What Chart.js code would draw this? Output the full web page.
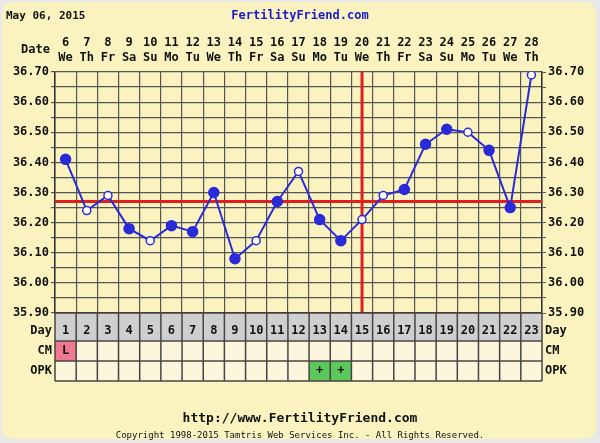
<!DOCTYPE html>
<html><head><meta charset="utf-8">
<script src="https://cdn.jsdelivr.net/npm/chart.js@4"></script>
<style>body{margin:0;background:#e8e8e8}#w{width:600px;height:443px;position:relative}</style>
</head><body><div id="w"><canvas id="c" width="600" height="443"></canvas></div>
<script>
const days=["1","2","3","4","5","6","7","8","9","10","11","12","13","14","15","16","17","18","19","20","21","22","23"];
const dates=["6","7","8","9","10","11","12","13","14","15","16","17","18","19","20","21","22","23","24","25","26","27","28"];
const weekdays=["We","Th","Fr","Sa","Su","Mo","Tu","We","Th","Fr","Sa","Su","Mo","Tu","We","Th","Fr","Sa","Su","Mo","Tu","We","Th"];
const temps=[36.41,36.24,36.29,36.18,36.14,36.19,36.17,36.30,36.08,36.14,36.27,36.37,36.21,36.14,36.21,36.29,36.31,36.46,36.51,36.50,36.44,36.25,36.69];
const openPts=[false,true,true,false,true,false,false,false,false,true,false,true,false,false,true,true,false,false,false,true,false,false,true];
const cm=["L","","","","","","","","","","","","","","","","","","","","","",""];
const opk=["","","","","","","","","","","","","+","+","","","","","","","","",""];
const coverline=36.27;
const ovDay=15;
const blue='#2a2ad8';
const deco={id:'deco',
beforeDraw(ch){const c=ch.ctx;c.save();c.fillStyle='#e8e8e8';c.fillRect(0,0,600,443);
 c.fillStyle='#fbf3bf';c.beginPath();c.roundRect(2,2,594,437,10);c.fill();c.restore();},
beforeDatasetsDraw(ch){const c=ch.ctx,x=ch.scales.x,y=ch.scales.y,a=ch.chartArea;c.save();
 c.strokeStyle='#e02020';c.lineWidth=3;
 const yy=y.getPixelForValue(coverline);c.beginPath();c.moveTo(a.left,yy);c.lineTo(a.right,yy);c.stroke();
 const xx=x.getPixelForValue(ovDay-1);c.beginPath();c.moveTo(xx,a.top);c.lineTo(xx,a.bottom);c.stroke();c.restore();},
afterDraw(ch){const c=ch.ctx,x=ch.scales.x,a=ch.chartArea;c.save();
 const cw=(x.getPixelForValue(1)-x.getPixelForValue(0));
 c.font='bold 11px "DejaVu Sans Mono", monospace';c.fillStyle='#111';c.textBaseline='middle';
 c.textAlign='left';c.fillText('May 06, 2015',6,16);
 c.textAlign='center';c.fillStyle='#1a1ac8';c.font='bold 12px "DejaVu Sans Mono", monospace';c.fillText('FertilityFriend.com',300,16);
 c.font='bold 12px "DejaVu Sans Mono", monospace';c.fillStyle='#111';
 c.textAlign='right';c.fillText('Date',50,50);
 c.textAlign='center';
 for(let i=0;i<days.length;i++){const px=x.getPixelForValue(i);c.fillText(dates[i],px,43);c.fillText(weekdays[i],px,58);}
 const rows=[[a.bottom,a.bottom+28,'#cfcfcf'],[a.bottom+28,a.bottom+48,'#fdf5dc'],[a.bottom+48,a.bottom+68,'#fdf5dc']];
 for(const [t,b,col] of rows){c.fillStyle=col;c.fillRect(a.left,t,a.width,b-t);}
 for(let i=0;i<days.length;i++){const l=x.getPixelForValue(i)-cw/2;
  if(cm[i]){c.fillStyle='#f07890';c.fillRect(l,a.bottom+28,cw,20);}
  if(opk[i]){c.fillStyle='#5cc85c';c.fillRect(l,a.bottom+48,cw,20);}}
 c.strokeStyle='#444';c.lineWidth=1.5;
 for(let i=0;i<=days.length;i++){const l=x.getPixelForValue(i)-cw/2;c.beginPath();c.moveTo(l,a.bottom);c.lineTo(l,a.bottom+68);c.stroke();}
 for(const yv of [a.bottom,a.bottom+28,a.bottom+48,a.bottom+68]){c.beginPath();c.moveTo(a.left,yv);c.lineTo(a.right,yv);c.stroke();}
 c.fillStyle='#111';c.font='bold 12px "DejaVu Sans Mono", monospace';
 for(let i=0;i<days.length;i++){const px=x.getPixelForValue(i);c.fillText(days[i],px,a.bottom+18);
  if(cm[i])c.fillText(cm[i],px,a.bottom+38);if(opk[i])c.fillText(opk[i],px,a.bottom+58);}
 c.textAlign='right';c.fillText('Day',a.left-3,a.bottom+18);c.fillText('CM',a.left-3,a.bottom+38);c.fillText('OPK',a.left-3,a.bottom+58);
 c.textAlign='left';c.fillText('Day',a.right+3,a.bottom+18);c.fillText('CM',a.right+3,a.bottom+38);c.fillText('OPK',a.right+3,a.bottom+58);
 c.textAlign='center';c.font='bold 13px "DejaVu Sans Mono", monospace';c.fillText('http://www.FertilityFriend.com',300,419);
 c.font='9px "DejaVu Sans Mono", monospace';c.fillText('Copyright 1998-2015 Tamtris Web Services Inc. - All Rights Reserved.',300,436);
 c.restore();}};
const tick=v=>{const r=Math.round(v*100);return r%10===0?(r/100).toFixed(2):'';};
const fnt={family:'"DejaVu Sans Mono", monospace',size:12,weight:'bold'};
new Chart(document.getElementById('c'),{type:'line',
data:{labels:days,datasets:[{data:temps,borderColor:blue,borderWidth:2,tension:0,
 pointRadius:openPts.map(o=>o?4:5),pointHoverRadius:5,pointBorderWidth:1.5,pointBorderColor:blue,
 pointBackgroundColor:openPts.map(o=>o?'#ffffff':blue)}]},
options:{responsive:false,animation:false,events:[],
 layout:{padding:{top:72,bottom:130,left:0,right:0}},
 plugins:{legend:{display:false},tooltip:{enabled:false}},
 scales:{
  x:{offset:true,grid:{offset:true,color:'#555',lineWidth:1.2,drawTicks:false},border:{color:'#333',width:1.5},ticks:{display:false}},
  y:{min:35.9,max:36.7,afterFit:s=>{s.width=55},afterBuildTicks:s=>{s.ticks=[];for(let i=0;i<=16;i++)s.ticks.push({value:35.9+i*0.05});},
   grid:{color:'#555',lineWidth:1.2,tickLength:4},border:{color:'#333',width:1.5},
   ticks:{callback:tick,color:'#111',font:fnt,padding:2,autoSkip:false}},
  y2:{position:'right',min:35.9,max:36.7,afterFit:s=>{s.width=58},afterBuildTicks:s=>{s.ticks=[];for(let i=0;i<=16;i++)s.ticks.push({value:35.9+i*0.05});},
   grid:{drawOnChartArea:false,color:'#555',tickLength:4},border:{color:'#333',width:1.5},
   ticks:{callback:tick,color:'#111',font:fnt,padding:2,autoSkip:false}}
 }},plugins:[deco]});
</script></body></html>
